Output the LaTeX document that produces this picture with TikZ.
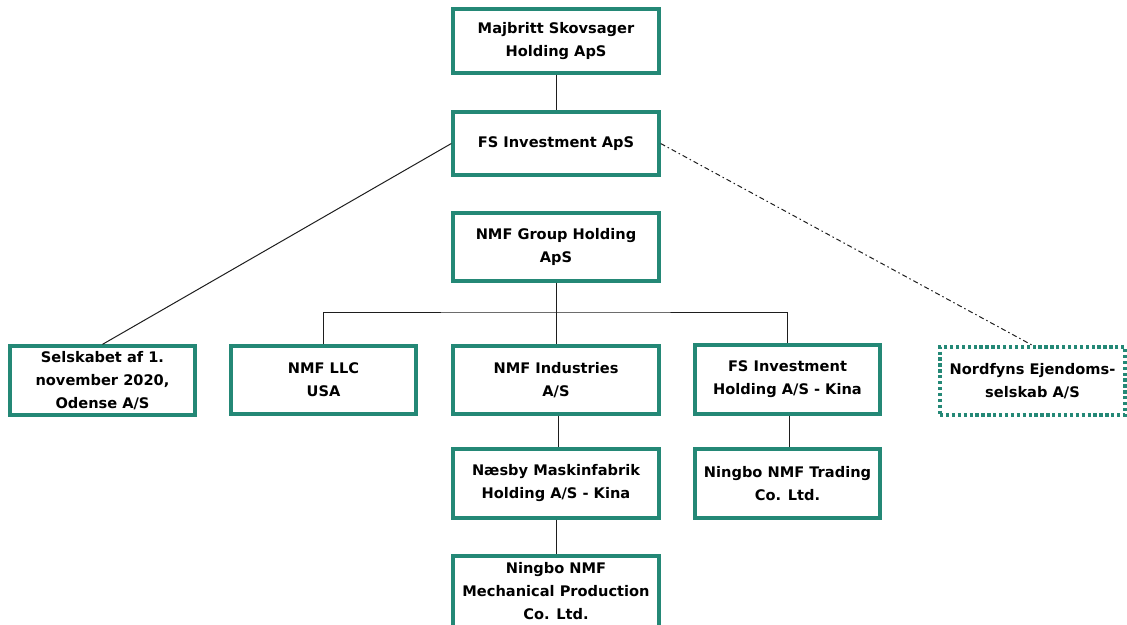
\documentclass[tikz,border=0pt]{standalone}
\usepackage{fontspec}
\setmainfont{DejaVu Sans}
\definecolor{teal1}{RGB}{36,136,118}
\definecolor{linec}{RGB}{30,30,30}
\begin{document}
\begin{tikzpicture}[x=1pt,y=-1pt,
  org/.style={draw=teal1,line width=3.3pt,fill=white,align=center,
    font=\bfseries\fontsize{14.6}{23}\selectfont,inner sep=0pt},
  dotbox/.style={org,dash pattern=on 3.3pt off 2.6pt},
  conn/.style={draw=linec,line width=1pt}]
\useasboundingbox (0,0) rectangle (1127,624);
\begin{scope}
\clip (0,0) rectangle (1127,624);
\node[org,minimum width=206,minimum height=64] (maj) at (556,41) {Majbritt Skovsager\\Holding ApS};
\node[org,minimum width=206,minimum height=63] (fsi) at (556,143.5) {FS Investment ApS};
\node[org,minimum width=206,minimum height=68] (nmfg) at (556,247) {NMF Group Holding\\ApS};
\node[org,minimum width=185,minimum height=69] (sel) at (102.5,380.5) {Selskabet af 1.\\november 2020,\\Odense A/S};
\node[org,minimum width=185,minimum height=68] (llc) at (323.5,380) {NMF LLC\\USA};
\node[org,minimum width=206,minimum height=68] (ind) at (556,380) {NMF Industries\\A/S};
\node[org,minimum width=185,minimum height=69] (fsh) at (787.5,379.5) {FS Investment\\Holding A/S - Kina};
\node[dotbox,minimum width=185,minimum height=68] (nord) at (1032.5,381) {Nordfyns Ejendoms-\\selskab A/S};
\node[org,minimum width=206,minimum height=69] (naes) at (556,483.5) {Næsby Maskinfabrik\\Holding A/S - Kina};
\node[org,minimum width=185,minimum height=69] (ntr) at (787.5,483.5) {Ningbo NMF Trading\\Co. Ltd.};
\node[org,minimum width=206,minimum height=80] (nmech) at (556,596) {};
\node[font=\bfseries\fontsize{14.6}{23}\selectfont,align=center] (nmecht) at (556,591) {Ningbo NMF\\Mechanical Production\\Co. Ltd.};
\end{scope}
\coordinate (bar) at (556,312);
\draw[conn] (maj.south) -- (fsi.north);
\draw[conn] (fsi.west) -- (sel.north);
\draw[conn,dash pattern=on 5pt off 3pt on 1.5pt off 3pt] (fsi.east) -- (nord.north);
\draw[conn] (nmfg.south) -- (bar);
\draw[conn] (llc.north) |- (bar) -| (fsh.north);
\draw[conn] (bar) -- (ind.north);
\draw[conn] ([xshift=2pt]ind.south) -- ([xshift=2pt]naes.north);
\draw[conn] (naes.south) -- (nmech.north);
\draw[conn] ([xshift=2pt]fsh.south) -- ([xshift=2pt]ntr.north);
\end{tikzpicture}
\end{document}
